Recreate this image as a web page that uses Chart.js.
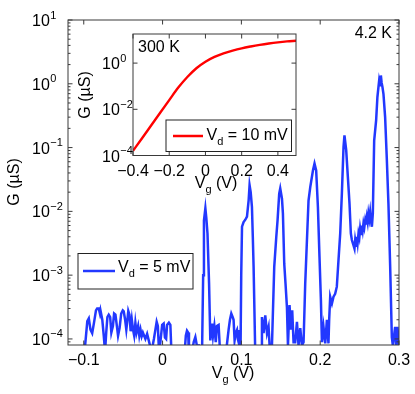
<!DOCTYPE html>
<html>
<head>
<meta charset="utf-8">
<script src="https://cdn.jsdelivr.net/npm/chart.js@4/dist/chart.umd.min.js"></script>
<style>
  html, body { margin: 0; padding: 0; background: #fff; }
  #wrap { position: relative; width: 415px; height: 394px; }
  #wrap canvas { position: absolute; left: 0; top: 0; }
</style>
</head>
<body>
<div id="wrap">
  <canvas id="mainChart" width="415" height="394"></canvas>
  <canvas id="insetChart" width="415" height="394"></canvas>
</div>
<script>
// 4.2 K trace, Vd = 5 mV (gate voltage in V, conductance in uS)
const vg5 = [
  -0.118, -0.099, -0.0955, -0.0936, -0.0915, -0.0893, -0.087, -0.0845, -0.083, -0.081,
  -0.0795, -0.0788, -0.0765, -0.0746, -0.073, -0.0715, -0.07, -0.0683, -0.0665, -0.065,
  -0.063, -0.0615, -0.0598, -0.058, -0.0565, -0.0545, -0.0525, -0.0505, -0.0493, -0.0475,
  -0.046, -0.045, -0.0435, -0.042, -0.0405, -0.039, -0.0375, -0.036, -0.0345, -0.033,
  -0.031, -0.0295, -0.028, -0.0265, -0.025, -0.0218, -0.0196, -0.017, -0.014, -0.011,
  -0.0091, -0.0075, -0.006, -0.0045, -0.0028, -0.0005, 0.0014, 0.003, 0.0045, 0.0057,
  0.008, 0.0099, 0.0115, 0.02, 0.0275, 0.0295, 0.031, 0.0325, 0.0335, 0.036,
  0.0395, 0.0416, 0.0435, 0.046, 0.0485, 0.0501, 0.0515, 0.0525, 0.0543, 0.0555,
  0.057, 0.059, 0.0606, 0.0628, 0.064, 0.0657, 0.0675, 0.069, 0.0711, 0.0725,
  0.0735, 0.079, 0.0815, 0.0838, 0.0855, 0.0872, 0.089, 0.0901, 0.0914, 0.093,
  0.0944, 0.0955, 0.0965, 0.0977, 0.099, 0.0998, 0.1008, 0.1028, 0.105, 0.1071,
  0.1092, 0.1104, 0.1118, 0.1134, 0.1145, 0.1155, 0.1177, 0.125, 0.1261, 0.1282,
  0.1303, 0.1325, 0.1345, 0.1358, 0.1388, 0.1417, 0.1443, 0.1459, 0.148, 0.1493,
  0.1515, 0.1527, 0.1544, 0.156, 0.1578, 0.1591, 0.1611, 0.1629, 0.1645, 0.1662,
  0.1683, 0.1705, 0.1725, 0.1747, 0.1768, 0.1789, 0.181, 0.1832, 0.1852, 0.1874,
  0.1908, 0.1928, 0.1949, 0.1971, 0.1991, 0.2009, 0.2022, 0.2042, 0.2064, 0.2085,
  0.2105, 0.2114, 0.2127, 0.2149, 0.2169, 0.219, 0.2211, 0.2232, 0.2254, 0.2275,
  0.2296, 0.2308, 0.233, 0.2351, 0.2372, 0.2389, 0.2402, 0.2422, 0.2435, 0.2444,
  0.2455, 0.2465, 0.2475, 0.2486, 0.2497, 0.2507, 0.2518, 0.2529, 0.2539, 0.2549,
  0.256, 0.2571, 0.2581, 0.2592, 0.2602, 0.2612, 0.2623, 0.2634, 0.2645, 0.2656,
  0.2668, 0.2685, 0.271, 0.2726, 0.2748, 0.2759, 0.277, 0.2779, 0.279, 0.2803,
  0.2824, 0.2846, 0.2866, 0.2888, 0.2909, 0.2922, 0.2951, 0.2964, 0.298, 0.2998
];
const g5 = [
  3.2e-5, 6.3e-5, 1.9e-4, 2.1e-4, 1.4e-4, 1.23e-4, 1.8e-4, 2.8e-4, 3.0e-4, 3.0e-4,
  2.5e-4, 2.8e-4, 2.0e-4, 1.12e-4, 6.3e-5, 1.26e-4, 2.2e-4, 2.4e-4, 2.2e-4, 1.26e-4,
  1.6e-4, 2.5e-4, 2.4e-4, 1.6e-4, 1.12e-4, 1.5e-4, 2.5e-4, 2.8e-4, 2.7e-4, 2.0e-4,
  1.4e-4, 1.8e-4, 2.75e-4, 2.4e-4, 1.32e-4, 2.0e-4, 1.4e-4, 1.12e-4, 1.8e-4, 1.26e-4,
  1.6e-4, 1.12e-4, 1.4e-4, 1.1e-4, 1.26e-4, 1.0e-4, 1.2e-4, 8.9e-5, 6.3e-5, 1.0e-4,
  1.4e-4, 1.86e-4, 1.6e-4, 6.3e-5, 8.9e-5, 1.66e-4, 1.74e-4, 1.05e-4, 1.0e-4, 1.66e-4,
  1.8e-4, 1.66e-4, 5e-5, 3.2e-5, 5e-5, 1.12e-4, 1.35e-4, 1.26e-4, 5e-5, 5e-5,
  8.9e-5, 1.07e-4, 7.9e-5, 7.9e-5, 5e-5, 6.3e-5, 1.0e-3, 7.2e-3, 1.12e-2, 7.9e-3,
  4.5e-3, 7.4e-4, 9.5e-5, 1.74e-4, 1.12e-4, 1.6e-4, 8.9e-5, 1.6e-4, 1.66e-4, 7.9e-5,
  5e-5, 5e-5, 7.9e-5, 1.4e-4, 2.0e-4, 2.5e-4, 2.2e-4, 2.0e-4, 9.5e-5, 1.26e-4,
  1.38e-4, 1.0e-4, 8.9e-5, 1.38e-4, 7.9e-5, 1.0e-3, 5.75e-3, 6.8e-3, 7.4e-3, 8.3e-3,
  1.48e-2, 2.57e-2, 2.0e-2, 1.17e-2, 4.0e-3, 1.35e-3, 5e-5, 5e-5, 2.2e-4, 1.23e-4,
  2.35e-4, 1.23e-4, 1.55e-4, 7.9e-5, 7.9e-5, 1.35e-3, 4.0e-3, 7.2e-3, 1.9e-2, 2.29e-2,
  1.58e-2, 9.3e-3, 1.5e-3, 7.4e-4, 3.16e-4, 7.9e-5, 3.4e-4, 1.4e-4, 2.8e-4, 8.9e-5,
  8.9e-5, 1.86e-4, 7.9e-5, 1.48e-4, 7.9e-5, 8.9e-5, 7.4e-4, 3.55e-3, 1.48e-2, 2.4e-2,
  4.37e-2, 5.62e-2, 4.37e-2, 1.17e-2, 1.95e-3, 4.1e-4, 8.9e-5, 1.55e-4, 8.5e-5, 2.0e-4,
  8.5e-5, 2.0e-4, 4.6e-4, 3.6e-4, 4.6e-4, 5.1e-4, 6.6e-4, 1.7e-3, 4.5e-3, 1.9e-2,
  0.102, 0.155, 0.091, 0.0347, 0.0132, 4.5e-3, 3.55e-3, 2.95e-3, 2.6e-3, 3.55e-3,
  2.9e-3, 4.0e-3, 3.2e-3, 4.5e-3, 3.9e-3, 5.4e-3, 4.4e-3, 6.0e-3, 5.0e-3, 6.5e-3,
  5.6e-3, 7.2e-3, 6.2e-3, 8.1e-3, 6.8e-3, 9.3e-3, 7.6e-3, 9.8e-3, 7.0e-3, 5.75e-3,
  9.3e-3, 0.129, 0.27, 0.62, 1.12, 0.95, 1.35, 1.05, 0.89, 0.69,
  0.30, 0.063, 0.0132, 1.35e-3, 1.07e-4, 7.9e-5, 1.55e-4, 7.9e-5, 1.55e-4, 7.9e-5
];

// 300 K trace, Vd = 10 mV
const vg300 = [-0.4, -0.35, -0.3, -0.25, -0.2, -0.15, -0.1, -0.05, 0, 0.05,
  0.1, 0.15, 0.2, 0.25, 0.3, 0.35, 0.4, 0.45, 0.5];
const g300 = [1.6e-4, 5.6e-4, 2.0e-3, 7.1e-3, 0.025, 0.087, 0.25, 0.60, 1.15, 1.86,
  2.63, 3.47, 4.37, 5.25, 6.17, 7.08, 7.94, 8.7, 9.3];

const mainXTicks = [-0.1, 0, 0.1, 0.2, 0.3];
const mainXLabels = ['\u22120.1', '0', '0.1', '0.2', '0.3'];
const mainYExp = [-4, -3, -2, -1, 0, 1];
const insetXTicks = [-0.4, -0.2, 0, 0.2, 0.4];
const insetXLabels = ['\u22120.4', '\u22120.2', '0', '0.2', '0.4'];
const insetYExp = [-4, -2, 0];

const FONT = '"Liberation Sans", Arial, Helvetica, sans-serif';
const BIG = '16px ' + FONT;
const SMALL = '11px ' + FONT;
const AXIS = '#3a3a3a';
const BLUE = '#2238ff';
const RED = '#ff0000';

function expText(e) {
  return e < 0 ? '\u2212' + (-e) : String(e);
}

// draws "base" + subscript + rest, starting at x (or centred on x)
function drawSubText(ctx, x, y, base, sub, rest, centre) {
  ctx.font = BIG;
  const w1 = ctx.measureText(base).width;
  const w3 = ctx.measureText(rest).width;
  ctx.font = SMALL;
  const w2 = ctx.measureText(sub).width;
  let x0 = centre ? x - (w1 + w2 + w3) / 2 : x;
  ctx.textAlign = 'left';
  ctx.textBaseline = 'alphabetic';
  ctx.font = BIG;
  ctx.fillText(base, x0, y);
  ctx.font = SMALL;
  ctx.fillText(sub, x0 + w1, y + 5);
  ctx.font = BIG;
  ctx.fillText(rest, x0 + w1 + w2, y);
}

function drawLegend(ctx, lg) {
  ctx.fillStyle = '#fff';
  ctx.fillRect(lg.x, lg.y, lg.w, lg.h);
  ctx.strokeStyle = '#222';
  ctx.lineWidth = 1;
  ctx.strokeRect(lg.x, lg.y, lg.w, lg.h);
  ctx.strokeStyle = lg.color;
  ctx.lineWidth = 2.5;
  ctx.beginPath();
  ctx.moveTo(lg.lineX0, lg.lineY);
  ctx.lineTo(lg.lineX1, lg.lineY);
  ctx.stroke();
  ctx.fillStyle = '#000';
  drawSubText(ctx, lg.textX, lg.textY, 'V', 'd', lg.rest, false);
}

function framePlugin(opt) {
  return {
    id: 'frame',
    beforeDraw(chart) {
      const { ctx, chartArea: a } = chart;
      ctx.save();
      ctx.fillStyle = '#fff';
      if (opt.fillAll) ctx.fillRect(0, 0, chart.width, chart.height);
      else ctx.fillRect(a.left, a.top, a.width, a.height);
      ctx.restore();
    },
    afterDraw(chart) {
      const { ctx, chartArea: a, scales } = chart;
      const x = scales.x, y = scales.y;
      ctx.save();
      ctx.strokeStyle = AXIS;
      ctx.lineWidth = 1;
      ctx.strokeRect(a.left, a.top, a.width, a.height);

      ctx.beginPath();
      opt.xTicks.forEach(v => {
        const px = x.getPixelForValue(v);
        ctx.moveTo(px, a.bottom); ctx.lineTo(px, a.bottom - 4.5);
        ctx.moveTo(px, a.top); ctx.lineTo(px, a.top + 4.5);
      });
      opt.yExp.forEach(e => {
        const py = y.getPixelForValue(Math.pow(10, e));
        ctx.moveTo(a.left, py); ctx.lineTo(a.left + 4.5, py);
        ctx.moveTo(a.right, py); ctx.lineTo(a.right - 4.5, py);
      });
      if (opt.minor) {
        for (let e = -5; e <= 1; e++) {
          for (let m = 2; m <= 9; m++) {
            const v = m * Math.pow(10, e);
            if (v <= y.min || v >= y.max) continue;
            const py = y.getPixelForValue(v);
            ctx.moveTo(a.left, py); ctx.lineTo(a.left + 2.5, py);
            ctx.moveTo(a.right, py); ctx.lineTo(a.right - 2.5, py);
          }
        }
      }
      ctx.stroke();

      ctx.fillStyle = '#000';
      ctx.font = BIG;
      ctx.textAlign = 'center';
      ctx.textBaseline = 'alphabetic';
      opt.xTicks.forEach((v, i) => {
        ctx.fillText(opt.xLabels[i], x.getPixelForValue(v), opt.xLabelY);
      });

      opt.yExp.forEach(e => {
        const py = y.getPixelForValue(Math.pow(10, e));
        ctx.textAlign = 'left';
        ctx.font = BIG;
        ctx.fillText('10', opt.yLabelX, py + 6);
        const w = ctx.measureText('10').width;
        ctx.font = SMALL;
        ctx.fillText(expText(e), opt.yLabelX + w + 0.5, py - 1.5);
      });

      // y title
      ctx.save();
      ctx.translate(opt.yTitleX, opt.yTitleY);
      ctx.rotate(-Math.PI / 2);
      ctx.font = BIG;
      ctx.textAlign = 'center';
      ctx.textBaseline = 'middle';
      ctx.fillText('G (\u00b5S)', 0, 0);
      ctx.restore();

      // x title
      drawSubText(ctx, opt.xTitleX, opt.xTitleY, 'V', 'g', ' (V)', true);

      // temperature note
      ctx.font = BIG;
      ctx.textAlign = opt.note.align;
      ctx.fillText(opt.note.text, opt.note.x, opt.note.y);

      drawLegend(ctx, opt.legend);
      ctx.restore();
    }
  };
}

function baseOptions(xMin, xMax, yMin, yMax, pad) {
  return {
    responsive: false,
    animation: false,
    layout: { padding: pad },
    plugins: { legend: { display: false }, tooltip: { enabled: false } },
    elements: { point: { radius: 0 } },
    scales: {
      x: { type: 'linear', display: false, min: xMin, max: xMax },
      y: { type: 'logarithmic', display: false, min: yMin, max: yMax }
    }
  };
}

const mainChart = new Chart(document.getElementById('mainChart'), {
  type: 'line',
  data: {
    datasets: [{
      data: vg5.map((v, i) => ({ x: v, y: g5[i] })),
      borderColor: BLUE,
      borderWidth: 2.5,
      tension: 0,
      fill: false
    }]
  },
  options: baseOptions(-0.12, 0.3, Math.pow(10, -4.095), 10,
    { left: 68, top: 20, right: 16, bottom: 49 }),
  plugins: [framePlugin({
    fillAll: true,
    minor: true,
    xTicks: mainXTicks, xLabels: mainXLabels, xLabelY: 365,
    yExp: mainYExp, yLabelX: 32,
    yTitleX: 15, yTitleY: 182,
    xTitleX: 233, xTitleY: 378,
    note: { text: '4.2 K', x: 392, y: 38, align: 'right' },
    legend: { x: 78, y: 253.5, w: 115, h: 35.5, color: BLUE,
      lineX0: 83, lineX1: 115, lineY: 271, textX: 118, textY: 272, rest: ' = 5 mV' }
  })]
});

const insetChart = new Chart(document.getElementById('insetChart'), {
  type: 'line',
  data: {
    datasets: [{
      data: vg300.map((v, i) => ({ x: v, y: g300[i] })),
      borderColor: RED,
      borderWidth: 2.4,
      cubicInterpolationMode: 'monotone',
      fill: false
    }]
  },
  options: baseOptions(-0.4, 0.5, 1e-4, Math.pow(10, 1.26),
    { left: 133, top: 34, right: 119, bottom: 238.5 }),
  plugins: [framePlugin({
    fillAll: false,
    minor: false,
    xTicks: insetXTicks, xLabels: insetXLabels, xLabelY: 176,
    yExp: insetYExp, yLabelX: 102,
    yTitleX: 86, yTitleY: 95,
    xTitleX: 216, xTitleY: 188,
    note: { text: '300 K', x: 138, y: 51.5, align: 'left' },
    legend: { x: 166, y: 120, w: 125.5, h: 31.5, color: RED,
      lineX0: 173, lineX1: 203, lineY: 136, textX: 206.5, textY: 140, rest: ' = 10 mV' }
  })]
});
</script>
</body>
</html>
